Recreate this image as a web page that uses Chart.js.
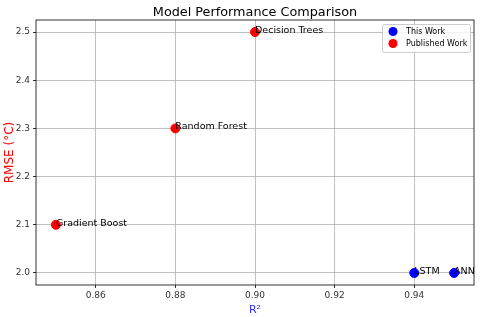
<!DOCTYPE html>
<html>
<head>
<meta charset="utf-8">
<script src="https://cdn.jsdelivr.net/npm/chart.js@4/dist/chart.umd.min.js"></script>
<style>
  html, body { margin: 0; padding: 0; background: #ffffff; }
  #wrap { width: 480px; height: 317px; }
</style>
</head>
<body>
<div id="wrap"><canvas id="perfChart" width="480" height="317"></canvas></div>
<script>
// data
const thisWorkModels = ['LSTM', 'ANN'];
const thisWorkR2 = [0.94, 0.95];
const thisWorkRmse = [2.0, 2.0];

const publishedModels = ['Gradient Boost', 'Random Forest', 'Decision Trees'];
const publishedR2 = [0.85, 0.88, 0.90];
const publishedRmse = [2.1, 2.3, 2.5];

const xTickValues = [0.86, 0.88, 0.90, 0.92, 0.94];
const yTickValues = [2.0, 2.1, 2.2, 2.3, 2.4, 2.5];

const FONT = "'DejaVu Sans', sans-serif";

function toPoints(xs, ys, names) {
  return xs.map(function(x, i) {
    return { x: x, y: ys[i], name: names[i] };
  });
}

// text labels next to each point, frame, title, legend box
const decorPlugin = {
  id: 'decor',
  afterDatasetsDraw: function(chart) {
    const ctx = chart.ctx;
    const xs = chart.scales.x;
    const ys = chart.scales.y;
    ctx.save();
    ctx.font = '9.5px ' + FONT;
    ctx.fillStyle = '#000000';
    ctx.textAlign = 'left';
    ctx.textBaseline = 'alphabetic';
    chart.data.datasets.forEach(function(ds) {
      ds.data.forEach(function(p) {
        ctx.fillText(p.name, xs.getPixelForValue(p.x), ys.getPixelForValue(p.y) + 1);
      });
    });
    ctx.restore();
  },
  afterDraw: function(chart) {
    const ctx = chart.ctx;
    const a = chart.chartArea;
    ctx.save();

    // axes frame
    ctx.strokeStyle = '#000000';
    ctx.lineWidth = 0.8;
    ctx.strokeRect(a.left, a.top, a.right - a.left, a.bottom - a.top);

    // title
    ctx.fillStyle = '#000000';
    ctx.font = '12.8px ' + FONT;
    ctx.textAlign = 'center';
    ctx.textBaseline = 'alphabetic';
    ctx.fillText('Model Performance Comparison', (a.left + a.right) / 2, a.top - 4);

    // legend
    const bx = a.right - 92, by = a.top + 4, bw = 88, bh = 28;
    ctx.fillStyle = 'rgba(255,255,255,0.8)';
    ctx.strokeStyle = '#cccccc';
    ctx.lineWidth = 1;
    ctx.beginPath();
    ctx.roundRect(bx + 0.5, by + 0.5, bw, bh, 2);
    ctx.fill();
    ctx.stroke();
    ctx.font = '8px ' + FONT;
    ctx.textAlign = 'left';
    ctx.textBaseline = 'middle';
    chart.data.datasets.forEach(function(ds, i) {
      const cy = by + 7.5 + i * 12;
      ctx.fillStyle = ds.backgroundColor;
      ctx.beginPath();
      ctx.arc(bx + 11, cy, 4.5, 0, Math.PI * 2);
      ctx.fill();
      ctx.fillStyle = '#000000';
      ctx.fillText(ds.label, bx + 24, cy);
    });
    ctx.restore();
  }
};

const chart = new Chart(document.getElementById('perfChart'), {
  type: 'scatter',
  data: {
    datasets: [{
      label: 'This Work',
      data: toPoints(thisWorkR2, thisWorkRmse, thisWorkModels),
      backgroundColor: '#0000ff',
      borderColor: '#0000ff',
      pointRadius: 4.5,
      pointHoverRadius: 4.5
    }, {
      label: 'Published Work',
      data: toPoints(publishedR2, publishedRmse, publishedModels),
      backgroundColor: '#ff0000',
      borderColor: '#ff0000',
      pointRadius: 4.5,
      pointHoverRadius: 4.5
    }]
  },
  options: {
    responsive: false,
    animation: false,
    layout: {
      padding: { top: 20, right: 6, left: 3, bottom: 0 }
    },
    scales: {
      x: {
        type: 'linear',
        min: 0.845,
        max: 0.955,
        afterFit: function(s) { s.height = 32; },
        afterBuildTicks: function(s) {
          s.ticks = xTickValues.map(function(v) { return { value: v }; });
        },
        ticks: {
          color: '#333333',
          font: { family: FONT, size: 9 },
          padding: 2,
          maxRotation: 0,
          callback: function(v) { return v.toFixed(2); }
        },
        grid: { color: '#b0b0b0', lineWidth: 0.8, tickLength: 3, tickColor: '#000000' },
        border: { display: false },
        title: {
          display: true,
          text: 'R²',
          color: '#3030ff',
          font: { family: FONT, size: 11 },
          padding: { top: 0, bottom: 0 }
        }
      },
      y: {
        type: 'linear',
        min: 1.975,
        max: 2.525,
        afterFit: function(s) { s.width = 33; },
        afterBuildTicks: function(s) {
          s.ticks = yTickValues.map(function(v) { return { value: v }; });
        },
        ticks: {
          color: '#333333',
          font: { family: FONT, size: 9 },
          padding: 3,
          callback: function(v) { return v.toFixed(1); }
        },
        grid: { color: '#b0b0b0', lineWidth: 0.8, tickLength: 3, tickColor: '#000000' },
        border: { display: false },
        title: {
          display: true,
          text: 'RMSE (°C)',
          color: '#ff0000',
          font: { family: FONT, size: 12 },
          padding: { top: 0, bottom: 1 }
        }
      }
    },
    plugins: {
      legend: { display: false },
      tooltip: { enabled: false }
    }
  },
  plugins: [decorPlugin]
});
</script>
</body>
</html>
